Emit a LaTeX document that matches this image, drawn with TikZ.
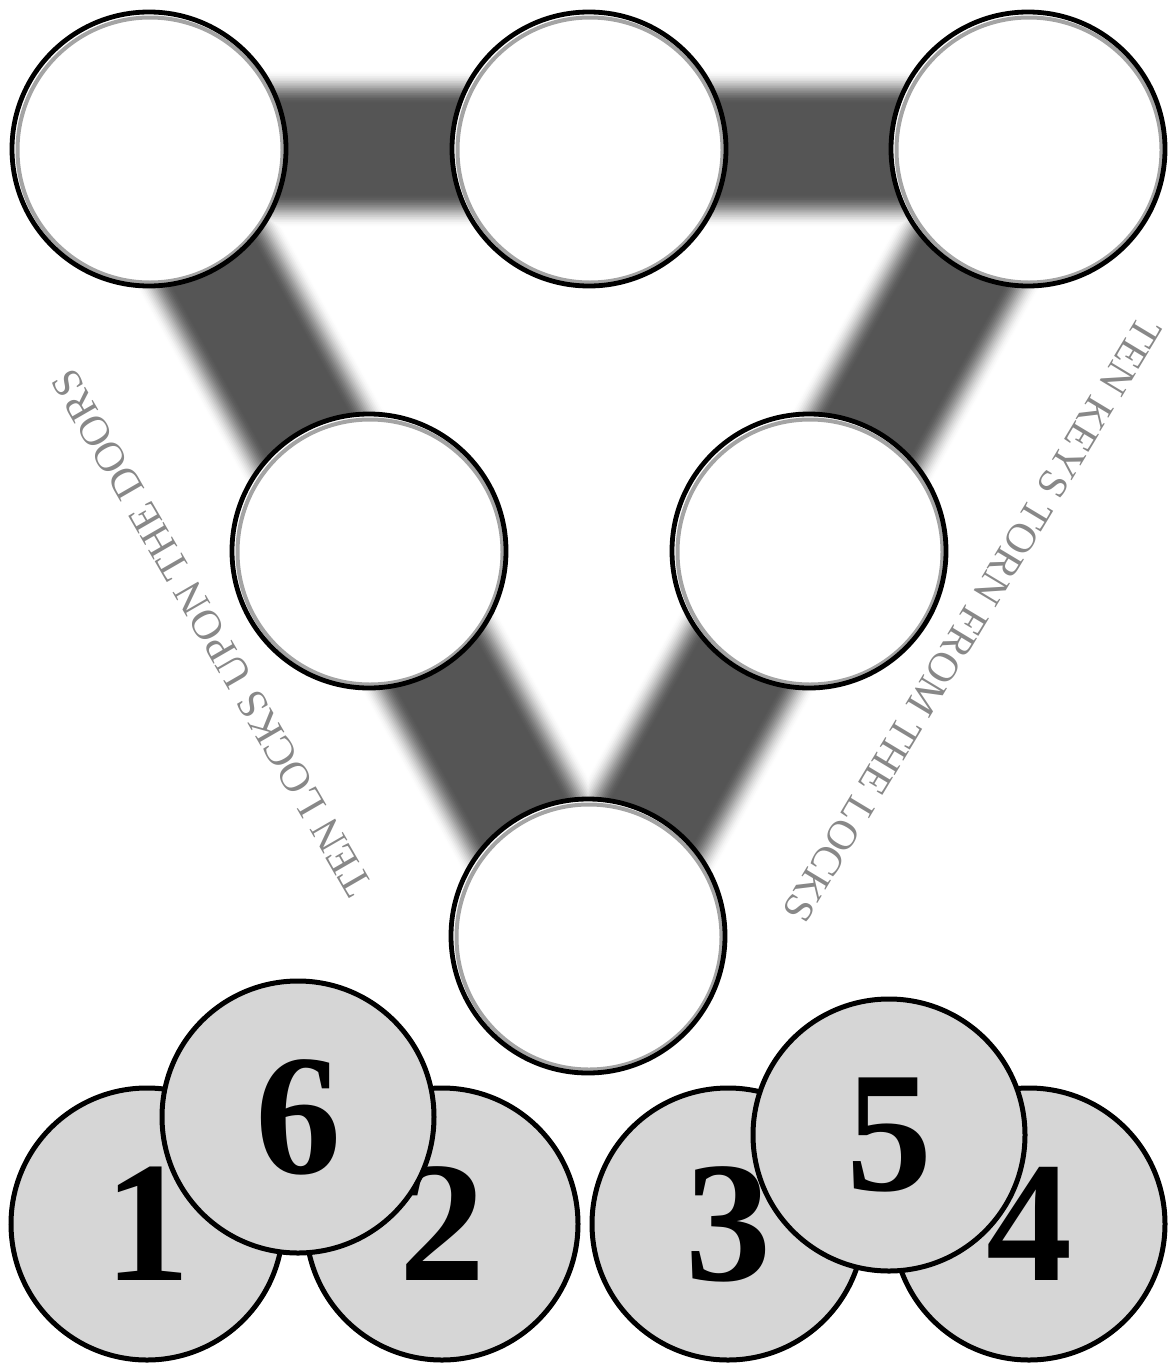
\documentclass[tikz,border=0pt]{standalone}
\usepackage{fontspec}
\setmainfont{Liberation Serif}
\usetikzlibrary{backgrounds}
\definecolor{bandgray}{HTML}{555555}
\definecolor{discgray}{HTML}{D6D6D6}
\definecolor{ringgray}{HTML}{A4A4A4}
\definecolor{labelgray}{HTML}{888888}
\begin{document}
\begin{tikzpicture}[x=1pt,y=-1pt,
  hole/.style={circle, draw=black, line width=4.8pt, fill=white, minimum size=274pt, inner sep=0pt,
    path picture={\draw[draw=ringgray, line width=4pt] ([shift={(1pt,-1pt)}]path picture bounding box.center) circle[radius=132.5pt];}},
  disc/.style={circle, draw=black, line width=5pt, fill=discgray, minimum size=272pt, inner sep=0pt,
    font=\fontsize{172}{172}\selectfont\bfseries},
  lbl/.style={text=labelgray, font=\fontsize{42}{42}\selectfont, inner sep=0pt}]
\useasboundingbox (0,0) rectangle (1167,1365);
% hollow circles
\node[hole] (tl) at (149,149) {};
\node[hole] (tm) at (589,149) {};
\node[hole] (tr) at (1028,149) {};
\node[hole] (ml) at (369,551) {};
\node[hole] (mr) at (809,551) {};
\node[hole] (bc) at (588,936) {};
% blurred bands
\begin{scope}[on background layer]
\foreach \i in {0,...,19}{
  \pgfmathsetmacro\w{156-3.4*\i}
  \pgfmathsetmacro\t{(\i+1)/20}
  \pgfmathsetmacro\p{100*\t*\t*(3-2*\t)}
  \draw[line width=\w pt, draw=bandgray!\p!white, line join=round]
    (tl.center) -- (tr.center) -- (bc.center) -- cycle;
}
\end{scope}
% labels
\node[lbl, rotate=120] (locks) at (212,633) {TEN LOCKS UPON THE DOORS};
\node[lbl, rotate=-121] (keys) at (972,620) {TEN KEYS TORN FROM THE LOCKS};
% numbered discs
\node[disc] (d1) at (147,1224) {1};
\node[disc] (d2) at (442,1224) {2};
\node[disc] (d6) at (298,1117) {6};
\node[disc] (d3) at (728,1224) {3};
\node[disc] (d4) at (1029,1224) {4};
\node[disc] (d5) at (889,1135) {5};
\end{tikzpicture}
\end{document}
